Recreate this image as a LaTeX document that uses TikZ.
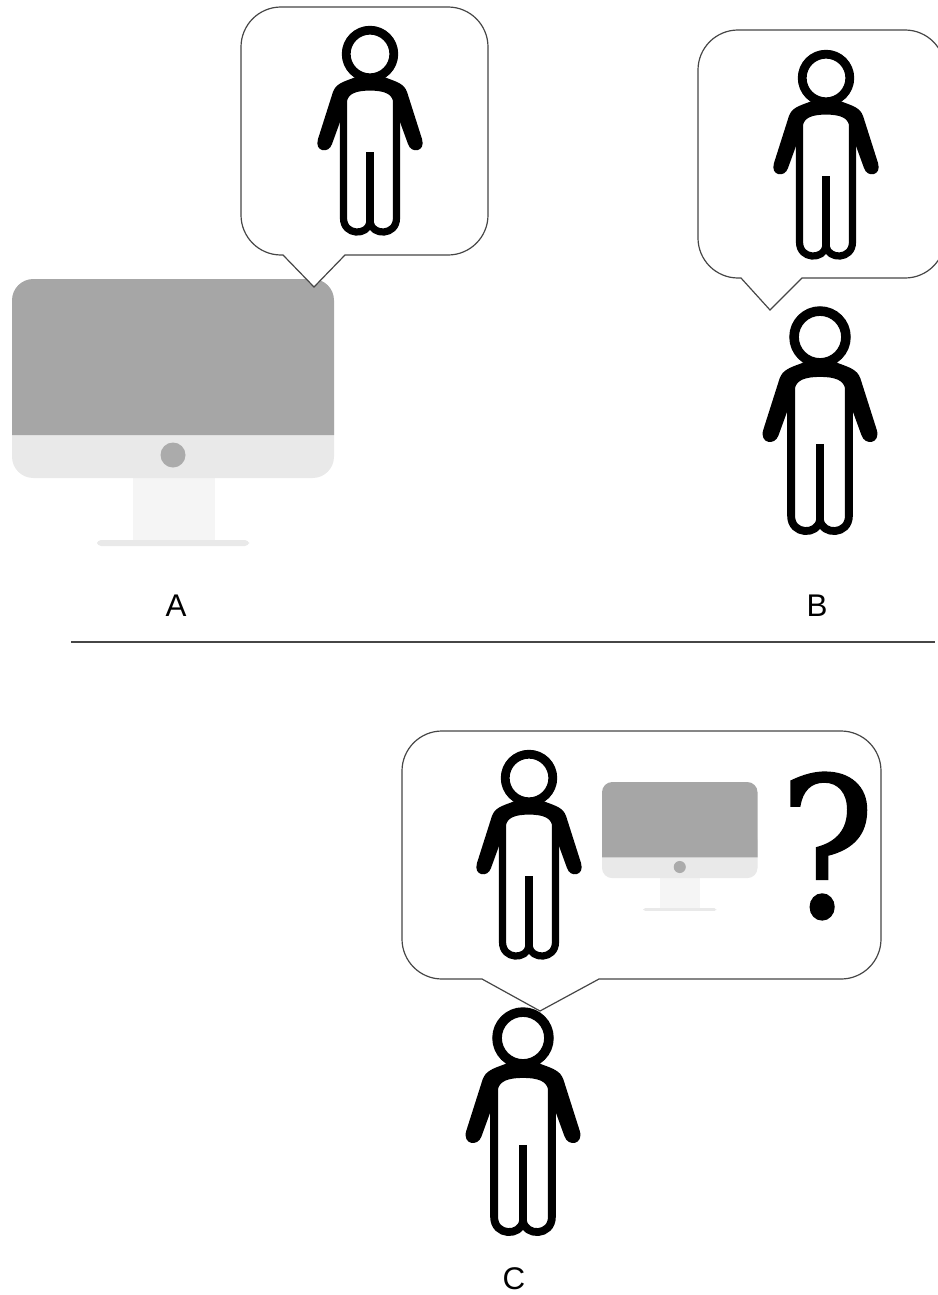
\documentclass[tikz,border=0pt]{standalone}
\usepackage{fontspec}
\usepackage{xcolor}
\usepackage{tikz}
\setmainfont{Liberation Sans}
\newfontfamily\markfont[FakeBold=1]{DejaVu Serif}
\definecolor{screengray}{RGB}{166,166,166}
\definecolor{chingray}{RGB}{233,233,233}
\definecolor{standgray}{RGB}{245,245,245}
\definecolor{dotgray}{RGB}{171,171,171}
\definecolor{bubbleline}{RGB}{70,70,70}

\tikzset{
    bubble/.style={draw=bubbleline, fill=white, line width=0.9pt},
    letter/.style={font=\fontsize{23.5}{26}\selectfont, inner sep=0pt},
    pics/person/.style={code={
        \begin{scope}[scale=#1]
            % head at the origin of the pic
            \draw[line width=#1*6.6pt] (0,0) circle (23.8);
            \foreach \side in {-1,1} {
                \fill[xscale=\side] (0,20) -- (-12,22) .. controls (-18,25) and (-27,27) .. (-32,31)
                    .. controls (-35,33) and (-37,37) .. (-38,41)
                    -- (-52,85) .. controls (-56,98) and (-41,100) .. (-38,90)
                    -- (-30,68) -- (-22,68) -- (-22,40) -- (0,40) -- cycle;
            }
            \draw[line width=#1*5.4pt, fill=white, line join=round]
                (-26.5,46) .. controls (-24,36) and (-14,33) .. (0,33)
                .. controls (14,33) and (24,36) .. (26.5,46) -- (26.5,164)
                .. controls (26.5,182) and (2,182) .. (0,168)
                .. controls (-2,182) and (-26.5,182) .. (-26.5,164) -- cycle;
            \draw[line width=#1*6pt] (0,98) -- (0,170);
        \end{scope}
    }},
    pics/monitor/.style={code={
        \begin{scope}[scale=#1]
            % top left corner of the screen at the origin of the pic
            \fill[standgray] (121,199) rectangle (203,261);
            \fill[chingray, rounded corners=#1*3pt] (85,261) rectangle (237,267);
            \fill[chingray, rounded corners=#1*16pt] (0,100) rectangle (322,199);
            \fill[screengray, rounded corners=#1*16pt] (161,0) -- (322,0) [sharp corners] -- (322,156) -- (0,156) [rounded corners=#1*16pt] -- (0,0) -- cycle;
            \fill[dotgray] (161,176) circle (12.5);
        \end{scope}
    }}
}

\begin{document}
\begin{tikzpicture}[x=0.75pt, y=-0.75pt]
    \useasboundingbox (0,0) rectangle (938,1295);
    \clip (0,0) rectangle (938,1295);

    \pic at (12,279) {monitor=1};

    % speech bubbles
    \draw[bubble, rounded corners=30pt] (365,7) -- (488,7) -- (488,255)
        [sharp corners] -- (345,255) -- (314,287) -- (283,255)
        [rounded corners=30pt] -- (241,255) -- (241,7) -- cycle;
    \draw[bubble, rounded corners=30pt] (822,30) -- (945,30) -- (945,278)
        [sharp corners] -- (802,278) -- (770,310) -- (741,278)
        [rounded corners=30pt] -- (698,278) -- (698,30) -- cycle;
    \draw[bubble, rounded corners=30pt] (640,731) -- (881,731) -- (881,979)
        [sharp corners] -- (599,979) -- (540,1011) -- (482,979)
        [rounded corners=30pt] -- (402,979) -- (402,731) -- cycle;

    \pic at (370,54) {person=1};
    \pic at (826,78) {person=1};
    \pic at (820,337) {person=1.09};
    \pic at (529,778) {person=1};
    \pic at (523,1038) {person=1.09};

    \pic at (602,782) {monitor=0.483};
    \node[inner sep=0pt, xscale=0.92, transform shape, font=\markfont\fontsize{146}{146}\selectfont] (question) at (827,846) {?};

    \node[letter] (labelA) at (176,606) {A};
    \node[letter] (labelB) at (817,606) {B};
    \node[letter] (labelC) at (514,1279) {C};

    \coordinate (ruleL) at (71,642);
    \coordinate (ruleR) at (935,642);
    \draw[line width=0.9pt, bubbleline] (ruleL) -- (ruleR);
\end{tikzpicture}
\end{document}
